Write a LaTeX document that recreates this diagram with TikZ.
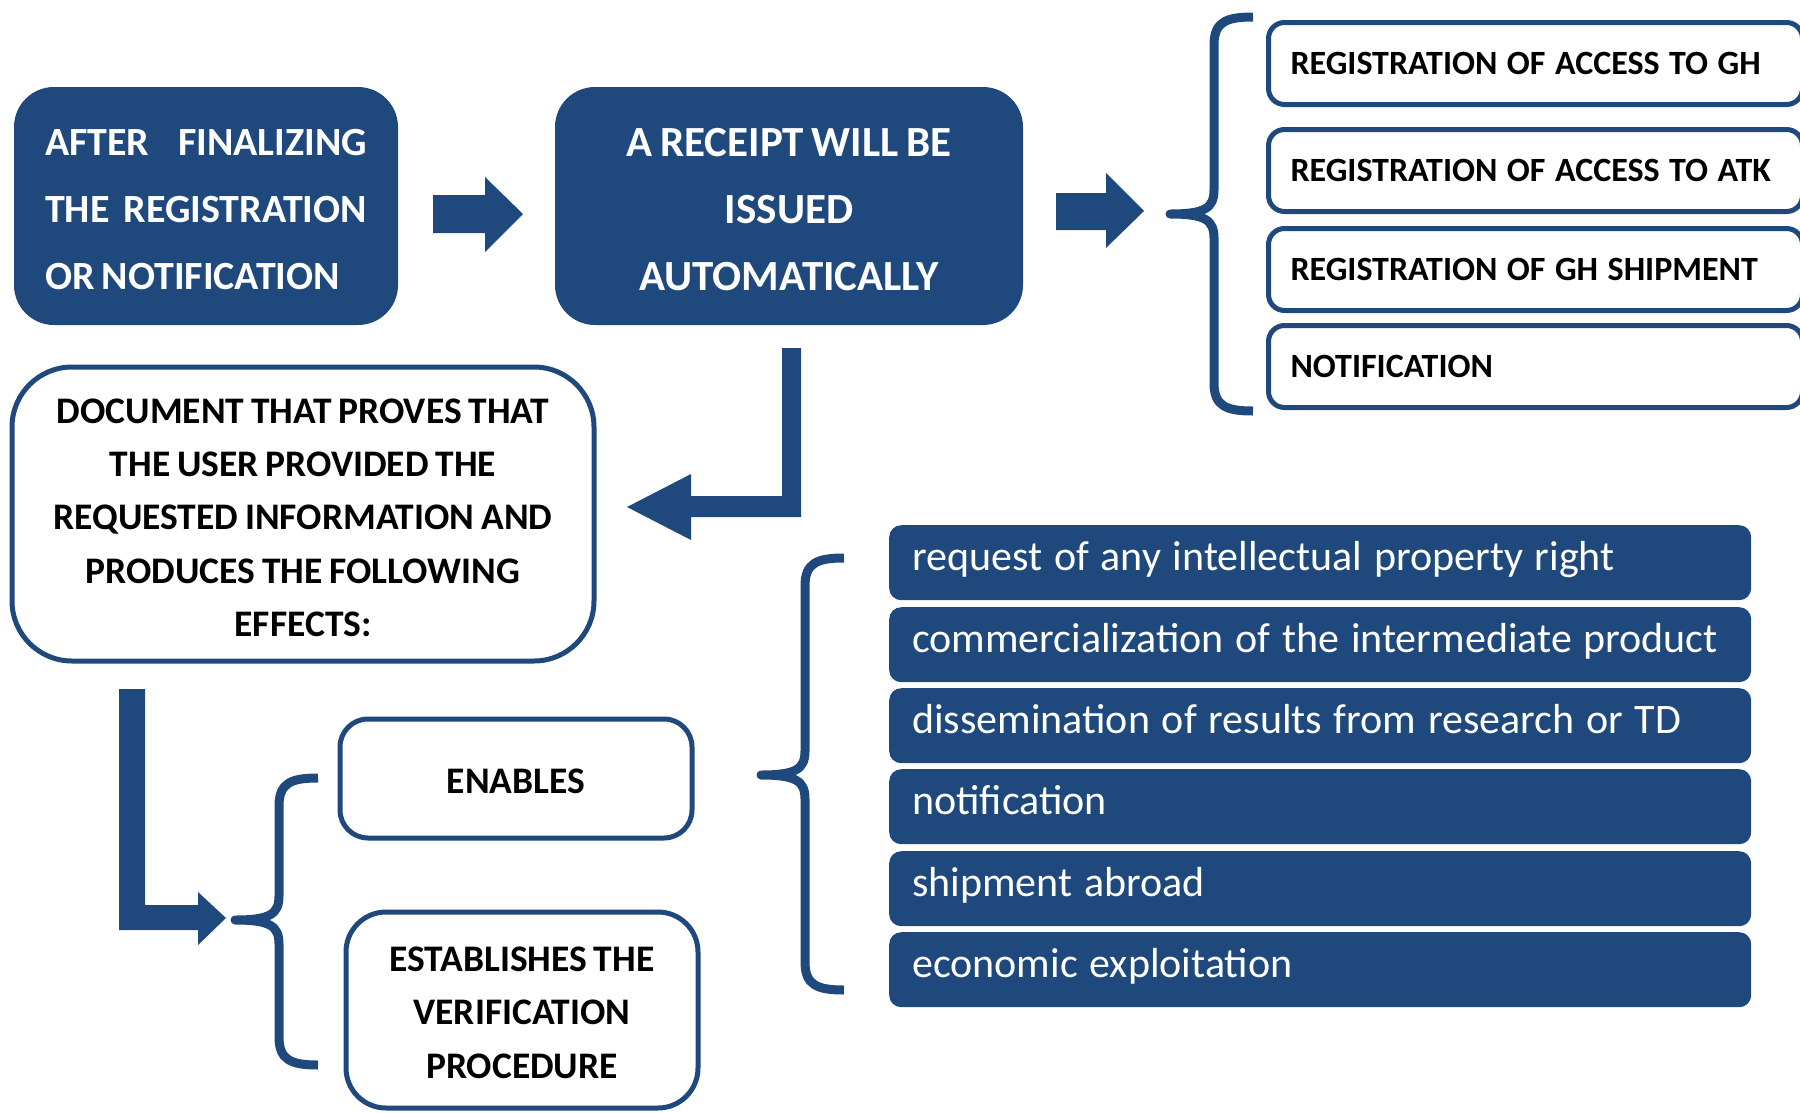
\documentclass[tikz,border=0pt]{standalone}
\usepackage{fontspec}
\setmainfont{Carlito}[WordSpace=0.8]
\definecolor{navy}{RGB}{31,73,125}
\newcommand{\drawbrace}[5]{%
  \draw[brace] (#2,#3) .. controls ({#1+12},#3) and (#1,{#3+5}) .. (#1,{#3+28})
    -- (#1,{#4-24}) .. controls (#1,{#4-6}) and ({#1-9},#4) .. ({#1-44},#4)
    .. controls ({#1-9},#4) and (#1,{#4+6}) .. (#1,{#4+24})
    -- (#1,{#5-28}) .. controls (#1,{#5-5}) and ({#1+12},#5) .. (#2,#5);}
\begin{document}
\begin{tikzpicture}[x=1pt,y=-1pt,
  darkbox/.style={fill=navy, text=white, rounded corners=40pt, inner sep=0pt,
    font=\bfseries\fontsize{43}{67}\selectfont},
  outbox/.style={draw=navy, line width=5pt, fill=white, inner sep=0pt, align=center,
    font=\bfseries\fontsize{37.5}{53.3}\selectfont},
  grpbox/.style={draw=navy, line width=5pt, fill=white, rounded corners=16pt, anchor=west,
    minimum height=82pt, inner xsep=22pt, inner ysep=0pt, text width=490pt, align=left,
    font=\bfseries\fontsize{34}{40}\selectfont,
    execute at begin node={\spaceskip=0.28em\relax}},
  effbox/.style={fill=navy, text=white, rounded corners=12pt, anchor=north west,
    inner xsep=23pt, inner ysep=0pt, text width=816pt, text height=45pt, text depth=30pt,
    align=left, font=\fontsize{42}{50}\selectfont,
    execute at begin node={\spaceskip=0.28em\relax}},
  blockarrow/.style={fill=navy},
  brace/.style={draw=navy, line width=9pt, line cap=butt, line join=round}
]
\useasboundingbox (0,0) rectangle (1800,1112);

% top row
\node[darkbox, font=\bfseries\fontsize{40}{67}\selectfont, align=left,
      minimum width=384pt, minimum height=238pt] (b1) at (206,206)
  {\rule{0pt}{33pt}\hbox to 322pt{AFTER\hfill FINALIZING}\\
   \hbox to 322pt{THE\hfill REGISTRATION}\\
   \hbox to 322pt{OR NOTIFICATION\hfill}};
\node[darkbox, minimum width=468pt, minimum height=238pt, align=center] (b2) at (789,206)
  {\rule{0pt}{35pt}A RECEIPT WILL BE\\ISSUED\\AUTOMATICALLY};

% block arrows
\fill[blockarrow] (433,195) -- (485,195) -- (485,177) -- (523,214) -- (485,252) -- (485,233) -- (433,233) -- cycle;
\fill[blockarrow] (1056,193) -- (1106,193) -- (1106,173) -- (1144,211) -- (1106,248) -- (1106,230) -- (1056,230) -- cycle;
\fill[blockarrow] (782,348) -- (801,348) -- (801,517) -- (691,517) -- (691,540) -- (627,507) -- (691,474) -- (691,496) -- (782,496) -- cycle;
\fill[blockarrow] (119,689) -- (145,689) -- (145,905) -- (198,905) -- (198,892) -- (226,918) -- (198,945) -- (198,930) -- (119,930) -- cycle;

% right group
\drawbrace{1214}{1253}{17}{214}{411}
\node[grpbox] (g1) at (1266,63.5) {\mbox{REGISTRATION OF ACCESS TO GH}};
\node[grpbox] (g2) at (1266,170.5) {\mbox{REGISTRATION OF ACCESS TO ATK}};
\node[grpbox] (g3) at (1266,269.5) {\mbox{REGISTRATION OF GH SHIPMENT}};
\node[grpbox] (g4) at (1266,366.5) {\mbox{NOTIFICATION}};

% document box
\node[outbox, rounded corners=60pt, minimum width=582pt, minimum height=294pt] (doc) at (303,514)
  {\rule{0pt}{32pt}DOCUMENT THAT PROVES THAT\\THE USER PROVIDED THE\\REQUESTED INFORMATION AND\\PRODUCES THE FOLLOWING\\EFFECTS:};

% enables / establishes
\drawbrace{279}{318}{778}{920}{1065}
\node[outbox, rounded corners=28pt, minimum width=352pt, minimum height=119pt] (en) at (516,778.5)
  {\rule{0pt}{30pt}ENABLES};
\node[outbox, rounded corners=40pt, minimum width=352pt, minimum height=196pt] (est) at (522,1010)
  {\rule{0pt}{30pt}ESTABLISHES THE\\VERIFICATION\\PROCEDURE};

% effects
\drawbrace{805}{844}{558}{775}{990}
\node[effbox] (e1) at (889,525) {request of any intellectual property right};
\node[effbox] (e2) at (889,607) {commercialization of the intermediate product};
\node[effbox] (e3) at (889,688) {dissemination of results from research or TD};
\node[effbox] (e4) at (889,769) {notification};
\node[effbox] (e5) at (889,851) {shipment abroad};
\node[effbox] (e6) at (889,932) {economic exploitation};
\end{tikzpicture}
\end{document}
